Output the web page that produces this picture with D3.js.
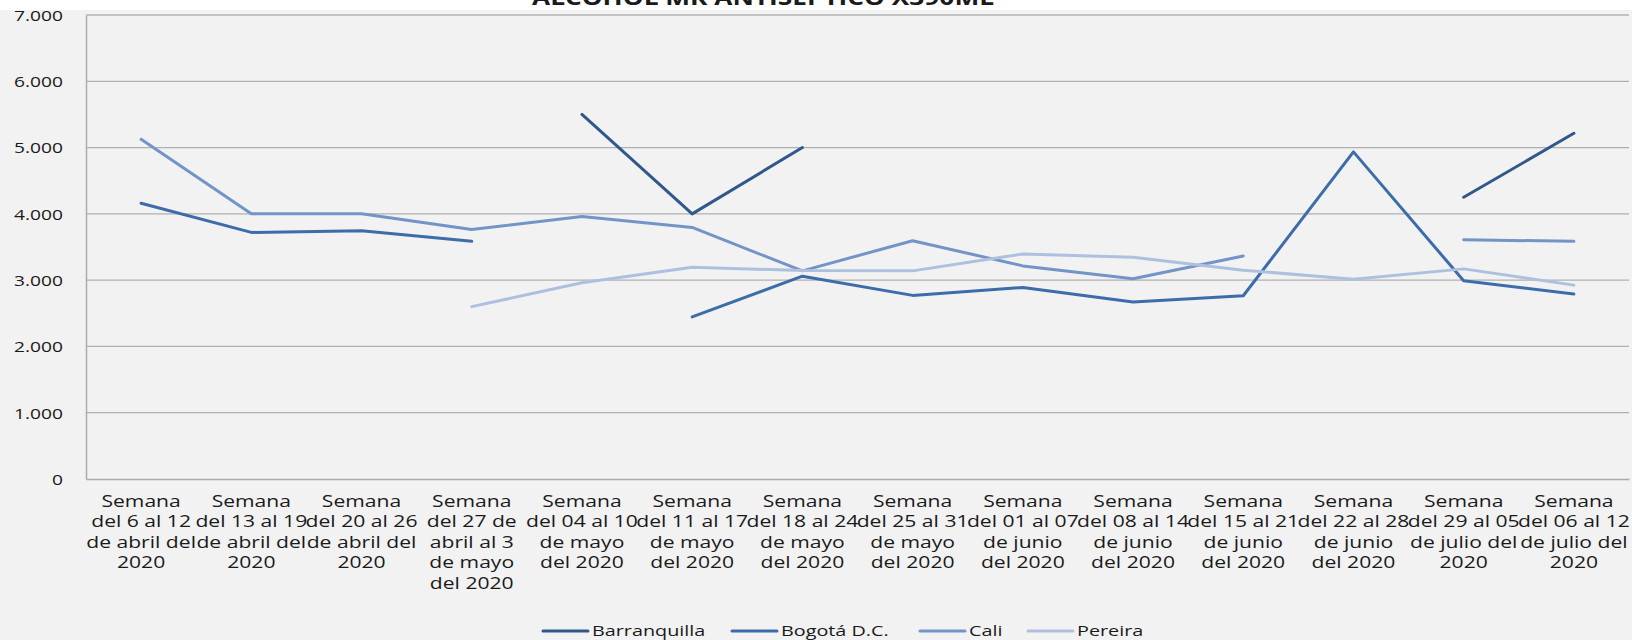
<!DOCTYPE html>
<html>
<head>
<meta charset="utf-8">
<script src="https://cdn.jsdelivr.net/npm/d3@7"></script>
<style>
  html, body { margin: 0; padding: 0; background: #ffffff; }
  svg { display: block; }
  text { font-family: "Open Sans", "Noto Sans", sans-serif; fill: #1a1a1a; }
</style>
</head>
<body>
<svg id="chart" width="1632" height="640"></svg>
<script>
// Week labels, one array of wrapped lines per category
const weekLabels = [
  ["Semana", "del 6 al 12", "de abril del", "2020"],
  ["Semana", "del 13 al 19", "de abril del", "2020"],
  ["Semana", "del 20 al 26", "de abril del", "2020"],
  ["Semana", "del 27 de", "abril al 3", "de mayo", "del 2020"],
  ["Semana", "del 04 al 10", "de mayo", "del 2020"],
  ["Semana", "del 11 al 17", "de mayo", "del 2020"],
  ["Semana", "del 18 al 24", "de mayo", "del 2020"],
  ["Semana", "del 25 al 31", "de mayo", "del 2020"],
  ["Semana", "del 01 al 07", "de junio", "del 2020"],
  ["Semana", "del 08 al 14", "de junio", "del 2020"],
  ["Semana", "del 15 al 21", "de junio", "del 2020"],
  ["Semana", "del 22 al 28", "de junio", "del 2020"],
  ["Semana", "del 29 al 05", "de julio del", "2020"],
  ["Semana", "del 06 al 12", "de julio del", "2020"]
];

const cities = ["Barranquilla", "Bogotá D.C.", "Cali", "Pereira"];

// Weekly price per city (null = no record that week)
const barranquilla = [null, null, null, null, 5500, 4000, 5000, null, null, null, null, null, 4250, 5215];
const bogota       = [4160, 3720, 3745, 3585, null, 2445, 3060, 2770, 2890, 2670, 2765, 4935, 2990, 2790];
const cali         = [5125, 4000, 4000, 3765, 3960, 3795, 3140, 3595, 3215, 3020, 3365, null, 3610, 3585];
const pereira      = [null, null, null, 2600, 2960, 3195, 3145, 3140, 3395, 3345, 3150, 3015, 3170, 2925];

const yTicks = [0, 1000, 2000, 3000, 4000, 5000, 6000, 7000];
const titleText = "ALCOHOL MK ANTISEPTICO X390ML";

const seriesValues = [barranquilla, bogota, cali, pereira];
const colors = ["#30588a", "#3d6cab", "#7394c7", "#adc1df"];

const svg = d3.select("#chart");
const W = 1632, H = 640;
const plot = { left: 86, right: 1629, top: 15, bottom: 479 };
const stretch = 1.28; // horizontal text stretch

// background panel
svg.append("rect").attr("x", 0).attr("y", 10).attr("width", W).attr("height", H - 10).attr("fill", "#f2f2f2");

const locale = d3.formatLocale({ decimal: ",", thousands: ".", grouping: [3], currency: ["$", ""] });
const fmt = locale.format(",d");

const x = d3.scaleBand().domain(d3.range(weekLabels.length)).range([plot.left, plot.right]);
const y = d3.scaleLinear().domain([0, 7000]).range([plot.bottom, plot.top]);

// gridlines
svg.append("g")
  .selectAll("line")
  .data(yTicks.filter(t => t > 0))
  .join("line")
  .attr("x1", plot.left).attr("x2", plot.right)
  .attr("y1", d => y(d)).attr("y2", d => y(d))
  .attr("stroke", d => d === 7000 ? "#c4c4c4" : "#b0b0b0")
  .attr("stroke-width", d => d === 7000 ? 2 : 1.3);

// y axis
const yAxis = svg.append("g")
  .attr("transform", `translate(${plot.left},0)`)
  .call(d3.axisLeft(y).tickValues(yTicks).tickFormat(fmt).tickSize(0).tickPadding(0));
yAxis.select(".domain").attr("stroke", "#acacac").attr("stroke-width", 1.5);
yAxis.selectAll(".tick text")
  .attr("x", 0)
  .attr("dy", "0.36em")
  .attr("font-size", 15)
  .attr("fill", "#1a1a1a")
  .attr("text-anchor", "end")
  .attr("transform", `translate(-23,0) scale(${stretch},1)`);

// x axis
const xAxis = svg.append("g")
  .attr("transform", `translate(0,${plot.bottom})`)
  .call(d3.axisBottom(x).tickSize(0).tickFormat(""));
xAxis.select(".domain").attr("stroke", "#acacac").attr("stroke-width", 1.5);
xAxis.selectAll(".tick").each(function (d) {
  const t = d3.select(this).select("text")
    .attr("y", 0).attr("dy", null)
    .attr("font-size", 16)
    .attr("fill", "#1a1a1a")
    .attr("text-anchor", "middle")
    .attr("transform", "scale(1.32,1)");
  t.selectAll("tspan")
    .data(weekLabels[d])
    .join("tspan")
    .attr("x", 0)
    .attr("y", (s, i) => 28 + i * 20.5)
    .text(s => s);
});

// series lines
const line = d3.line()
  .defined(v => v !== null)
  .x((v, i) => x(i) + x.bandwidth() / 2)
  .y(v => y(v));

svg.append("g")
  .selectAll("path")
  .data(seriesValues)
  .join("path")
  .attr("d", line)
  .attr("fill", "none")
  .attr("stroke", (d, i) => colors[i])
  .attr("stroke-width", 3)
  .attr("stroke-linejoin", "round")
  .attr("stroke-linecap", "round");

// title (sits at the upper edge)
svg.append("text")
  .attr("x", 763).attr("y", 4.5)
  .attr("text-anchor", "middle")
  .attr("font-family", "'Liberation Sans', Arial, sans-serif")
  .attr("font-weight", "bold")
  .attr("font-size", 22)
  .attr("fill", "#000")
  .attr("textLength", 462)
  .attr("lengthAdjust", "spacingAndGlyphs")
  .text(titleText);

// legend
const legendX = [543, 732, 920, 1028];
const legend = svg.append("g")
  .selectAll("g")
  .data(cities)
  .join("g")
  .attr("transform", (d, i) => `translate(${legendX[i]},631)`);
legend.append("line")
  .attr("x1", 0).attr("x2", 45)
  .attr("stroke", (d, i) => colors[i])
  .attr("stroke-width", 3)
  .attr("stroke-linecap", "round");
legend.append("text")
  .attr("dy", "0.36em")
  .attr("font-size", 15)
  .attr("fill", "#1a1a1a")
  .attr("transform", "translate(49,0) scale(1.32,1)")
  .text(d => d);
</script>
</body>
</html>
